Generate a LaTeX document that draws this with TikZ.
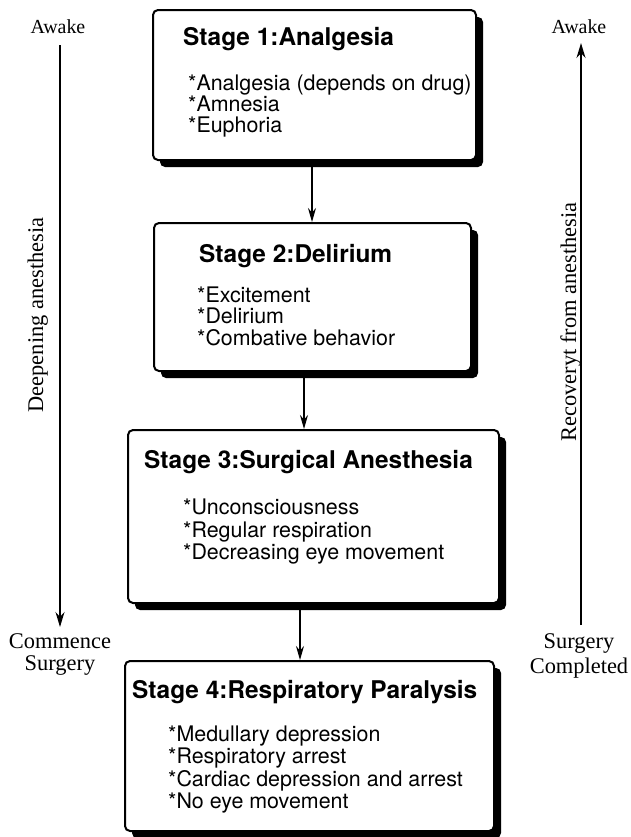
\documentclass[tikz,border=0pt]{standalone}
\usepackage{fontspec}
\setmainfont{Liberation Serif}
\newfontfamily\helv{TeX Gyre Heros}
\usetikzlibrary{arrows.meta,shadows}
\begin{document}
\begin{tikzpicture}[x=1bp,y=-1bp,
  stagebox/.style={draw=black, line width=2bp, rounded corners=5bp, fill=white, inner sep=0pt,
    anchor=north west,
    drop shadow={shadow xshift=7bp, shadow yshift=-7bp, fill=black, opacity=1}},
  stagetitle/.style={anchor=base west, inner sep=0pt, font=\helv\bfseries\fontsize{24.5}{26}\selectfont},
  bullet/.style={anchor=base west, inner sep=0pt, font=\helv\fontsize{21.5}{22}\selectfont},
  arr/.style={line width=1.3bp, -{Stealth[length=14bp,width=8bp]}},
  sidearr/.style={line width=1.5bp, -{Stealth[length=15bp,width=9bp]}},
  sidelabel/.style={anchor=base, inner sep=0pt, font=\fontsize{22.5}{24}\selectfont},
  awakelabel/.style={anchor=base, inner sep=0pt, font=\fontsize{20}{22}\selectfont}
]
\useasboundingbox[fill=white] (0,0) rectangle (631,837);

% boxes
\node[stagebox, minimum width=323bp, minimum height=150bp] (s1) at (152,9) {};
\node[stagebox, minimum width=317bp, minimum height=148bp] (s2) at (153,222) {};
\node[stagebox, minimum width=371bp, minimum height=173bp] (s3) at (127,429) {};
\node[stagebox, minimum width=369bp, minimum height=170bp] (s4) at (124,660) {};

% box 1
\node[stagetitle] (t1) at (183,45) {Stage 1:Analgesia};
\node[bullet] (b11) at (188,90) {*Analgesia (depends on drug)};
\node[bullet] (b12) at (188,111) {*Amnesia};
\node[bullet] (b13) at (188,132) {*Euphoria};

% box 2
\node[stagetitle] (t2) at (199,262) {Stage 2:Delirium};
\node[bullet] (b21) at (197,302) {*Excitement};
\node[bullet] (b22) at (197,323) {*Delirium};
\node[bullet] (b23) at (197,345) {*Combative behavior};

% box 3
\node[stagetitle] (t3) at (144,468) {Stage 3:Surgical Anesthesia};
\node[bullet] (b31) at (183,514) {*Unconsciousness};
\node[bullet] (b32) at (183,537) {*Regular respiration};
\node[bullet] (b33) at (183,559) {*Decreasing eye movement};

% box 4
\node[stagetitle] (t4) at (132,698) {Stage 4:Respiratory Paralysis};
\node[bullet] (b41) at (168,741) {*Medullary depression};
\node[bullet] (b42) at (168,763) {*Respiratory arrest};
\node[bullet] (b43) at (168,786) {*Cardiac depression and arrest};
\node[bullet] (b44) at (168,808) {*No eye movement};

% connectors between boxes
\coordinate (x1) at (312,0);
\coordinate (x2) at (304,0);
\coordinate (x3) at (300,0);
\draw[arr] (s1.south -| x1) -- (s2.north -| x1);
\draw[arr] (s2.south -| x2) -- (s3.north -| x2);
\draw[arr] (s3.south -| x3) -- (s4.north -| x3);

% left side
\node[awakelabel] (awL) at (58,33) {Awake};
\coordinate (lt) at (60,45);
\coordinate (lb) at (60,627);
\draw[sidearr] (lt) -- (lb);
\node[sidelabel, rotate=90] (deep) at (43,315) {Deepening anesthesia};
\node[sidelabel] (cm1) at (60,648) {Commence};
\node[sidelabel] (cm2) at (60,670) {Surgery};

% right side
\node[awakelabel] (awR) at (579,33) {Awake};
\coordinate (rb) at (581,625);
\coordinate (rt) at (581,43);
\draw[sidearr] (rb) -- (rt);
\node[sidelabel, rotate=90] (rec) at (576,322) {Recoveryt from anesthesia};
\node[sidelabel] (sc1) at (579,648) {Surgery};
\node[sidelabel] (sc2) at (579,673) {Completed};
\end{tikzpicture}
\end{document}
